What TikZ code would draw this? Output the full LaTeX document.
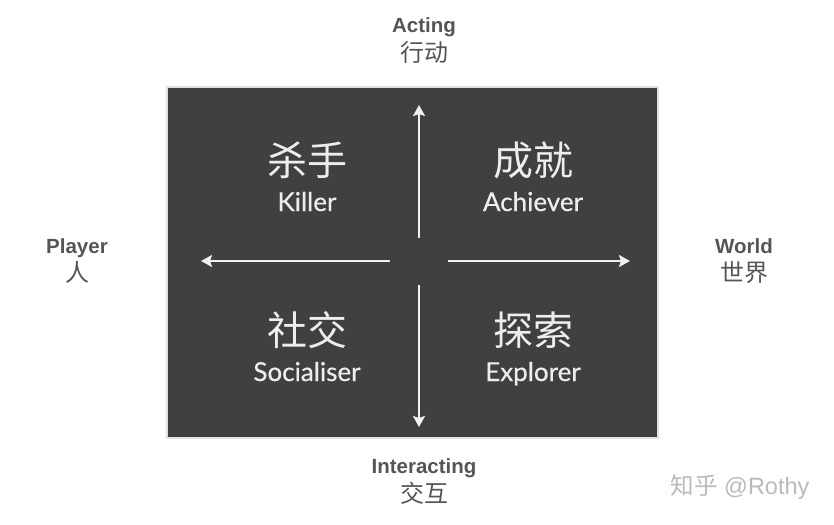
\documentclass[tikz,border=0pt]{standalone}
\usepackage{fontspec}
\setmainfont{Liberation Sans}
\newfontfamily\cjk{Noto Sans CJK SC}
\newfontfamily\quadfont[FakeBold=0.5]{Lato}
\usetikzlibrary{arrows.meta}

\definecolor{boardgray}{HTML}{404040}
\definecolor{labelgray}{HTML}{555555}

\tikzset{
  axisword/.style={anchor=base,text=labelgray,font=\bfseries\fontsize{20.5}{24}\selectfont},
  axiscjk/.style={anchor=base,text=labelgray,font=\cjk\fontsize{24}{28}\selectfont},
  typecjk/.style={anchor=base,text=white!93!black,font=\cjk\fontsize{40}{46}\selectfont},
  typeword/.style={anchor=base,text=white!93!black,font=\quadfont\fontsize{26}{30}\selectfont},
  axisarrow/.style={draw=white!95!black,line width=2.7pt,-{Stealth[length=11pt,width=12pt,inset=2pt]}}
}

\begin{document}
\begin{tikzpicture}[x=1pt,y=-1pt]
    \useasboundingbox (0,0) rectangle (834,524);
    \fill[white] (0,0) rectangle (834,524);
    % the board
    \draw[fill=boardgray,draw=black!12,line width=1.2pt] (167,87) rectangle (658,438);

    % axis ends
    \coordinate (upfrom) at (419,238);
    \coordinate (upto) at (419,105);
    \coordinate (downfrom) at (419,285);
    \coordinate (downto) at (419,427);
    \coordinate (leftfrom) at (390,261);
    \coordinate (leftto) at (201,261);
    \coordinate (rightfrom) at (448,261);
    \coordinate (rightto) at (630,261);
    \draw[axisarrow] (upfrom) -- (upto);
    \draw[axisarrow] (downfrom) -- (downto);
    \draw[axisarrow] (leftfrom) -- (leftto);
    \draw[axisarrow] (rightfrom) -- (rightto);

    % the four player types
    \node[typecjk] (killercjk) at (307,175) {杀手};
    \node[typeword] (killer) at (307,211) {Killer};
    \node[typecjk] (achievercjk) at (533,175) {成就};
    \node[typeword] (achiever) at (533,211) {Achiever};
    \node[typecjk] (socialcjk) at (307,345) {社交};
    \node[typeword] (social) at (307,381) {Socialiser};
    \node[typecjk] (explorercjk) at (533,345) {探索};
    \node[typeword] (explorer) at (533,381) {Explorer};

    % labels round the board
    \node[axisword] (acting) at (424,33) {Acting};
    \node[axiscjk] (actingcjk) at (424,62) {行动};
    \node[axisword] (interacting) at (424,473) {Interacting};
    \node[axiscjk] (interactingcjk) at (424,502) {交互};
    \node[axisword] (player) at (77,253) {Player};
    \node[axiscjk] (playercjk) at (77,281) {人};
    \node[axisword] (world) at (744,253) {World};
    \node[axiscjk] (worldcjk) at (744,281) {世界};

    \node[anchor=base,text=black!27,font=\fontsize{23.5}{26}\selectfont] (mark) at (740,494) {{\cjk 知乎} @Rothy};
  \end{tikzpicture}
\end{document}
